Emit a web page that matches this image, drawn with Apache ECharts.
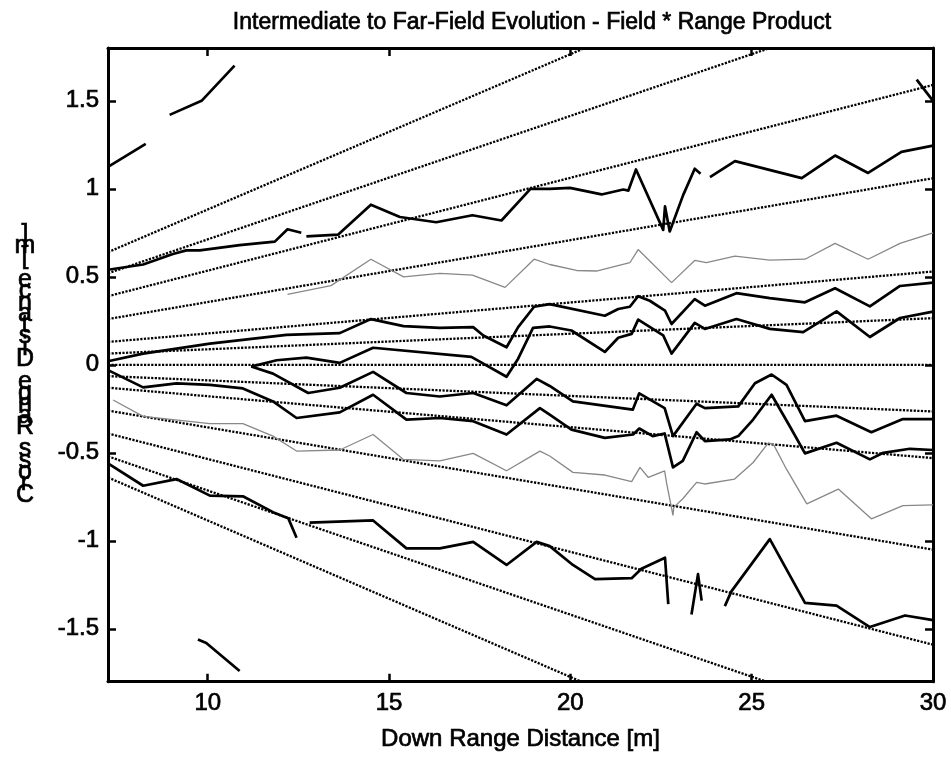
<!DOCTYPE html>
<html>
<head>
<meta charset="utf-8">
<script src="https://cdn.jsdelivr.net/npm/echarts@6/dist/echarts.min.js"></script>
<style>
  html, body { margin: 0; padding: 0; background: #fff; }
  #chart { width: 951px; height: 757px; }
</style>
</head>
<body>
<div id="chart"></div>
<script>
// Axis ranges and tick labels
const rangeMin = 7.25, rangeMax = 30;
const crossMin = -1.8, crossMax = 1.8;
const rangeTicks = [10, 15, 20, 25, 30];
const crossTicks = [-1.5, -1, -0.5, 0, 0.5, 1, 1.5];

// Constant-angle reference lines (dotted), end points [range, cross]
const guideZero = [[7.25, 0], [30, 0]];
const guideUp1 = [[7.25, 0.064], [30, 0.265]];
const guideUp2 = [[7.25, 0.13], [30, 0.53]];
const guideUp3 = [[7.25, 0.26], [30, 1.06]];
const guideUp4 = [[7.25, 0.39], [30, 1.59]];
const guideUp5 = [[7.25, 0.52], [25.5, 1.8]];
const guideUp6 = [[7.25, 0.64], [20.4, 1.8]];
const guideDn1 = [[7.25, -0.064], [30, -0.265]];
const guideDn2 = [[7.25, -0.13], [30, -0.53]];
const guideDn3 = [[7.25, -0.26], [30, -1.05]];
const guideDn4 = [[7.25, -0.39], [30, -1.59]];
const guideDn5 = [[7.25, -0.52], [25.4, -1.8]];
const guideDn6 = [[7.25, -0.64], [20.3, -1.8]];

// Measured field*range contours (solid)
const cornerTopA = [[7.25, 1.125], [8.29, 1.255]];
const cornerTopB = [[8.95, 1.42], [9.83, 1.50], [10.74, 1.70]];
const cornerTopRight = [[29.55, 1.62], [30, 1.5]];
const cornerBottom = [[9.73, -1.56], [9.96, -1.58], [10.88, -1.74]];

const upperA1 = [[7.25, 0.54], [8.22, 0.57], [9.04, 0.63], [9.41, 0.65], [9.78, 0.65], [10.88, 0.68],
  [11.85, 0.70], [12.2, 0.77], [12.58, 0.75]];
const upperA2 = [[12.72, 0.73], [13.6, 0.74], [14.5, 0.91], [15.3, 0.84], [16.3, 0.81], [17.3, 0.85],
  [18.1, 0.82], [18.9, 1.0], [19.43, 1.0], [19.99, 1.005], [20.86, 0.968], [21.46, 0.996], [21.6, 0.99],
  [21.81, 1.11], [22.56, 0.767], [22.61, 0.90], [22.74, 0.758], [23.11, 0.964], [23.43, 1.114], [23.59, 1.086]];
const upperA3 = [[23.85, 1.067], [24.54, 1.157], [26.38, 1.061], [27.3, 1.189], [28.21, 1.09],
  [29.13, 1.21], [30, 1.245]];

const upperGrey = [[12.2, 0.40], [13.4, 0.45], [14.5, 0.60], [15.4, 0.50], [16.4, 0.52], [17.3, 0.51],
  [18.2, 0.44], [19.0, 0.60], [19.43, 0.57], [20.17, 0.536], [20.72, 0.533], [21.64, 0.58], [21.87, 0.655],
  [22.79, 0.467], [23.43, 0.593], [23.75, 0.58], [24.54, 0.617], [25.5, 0.595], [26.47, 0.60], [27.3, 0.69],
  [28.21, 0.60], [29.09, 0.69], [30, 0.75]];

const midC = [[7.25, 0.02], [8.22, 0.064], [10.06, 0.12], [12.17, 0.17], [13.64, 0.18], [14.5, 0.26],
  [15.4, 0.22], [16.4, 0.21], [17.32, 0.214], [17.6, 0.167], [18.24, 0.10], [18.56, 0.214], [19.0, 0.33],
  [19.43, 0.345], [20.95, 0.279], [21.32, 0.317], [21.64, 0.33], [21.87, 0.39], [22.19, 0.364], [22.61, 0.308],
  [22.79, 0.232], [23.43, 0.373], [23.71, 0.336], [24.58, 0.407], [25.5, 0.379], [26.47, 0.355], [27.3, 0.435],
  [28.26, 0.332], [29.09, 0.448], [30, 0.467]];

const loopUpper = [[11.2, -0.01], [11.9, 0.026], [12.72, 0.041], [13.64, 0.011], [14.56, 0.097], [17.27, 0.045],
  [18.24, -0.068], [18.56, 0.035], [18.97, 0.21], [19.43, 0.218], [20.03, 0.195], [20.95, 0.073], [21.32, 0.154],
  [21.69, 0.176], [21.87, 0.257], [22.56, 0.167], [22.79, 0.064], [23.43, 0.238], [23.71, 0.204], [24.58, 0.26],
  [25.5, 0.204], [26.42, 0.186], [27.34, 0.304], [28.26, 0.158], [29.09, 0.266], [30, 0.302]];
const loopLower = [[11.2, -0.01], [11.8, -0.05], [12.77, -0.16], [13.64, -0.13], [14.56, -0.04], [15.48, -0.16],
  [16.4, -0.18], [17.32, -0.16], [18.24, -0.23], [19.07, -0.08], [19.43, -0.12], [20.07, -0.208], [21.72, -0.255],
  [21.9, -0.162], [22.6, -0.246], [22.83, -0.405], [23.48, -0.221], [23.71, -0.246], [24.63, -0.236],
  [25.09, -0.105], [25.55, -0.055], [25.96, -0.114], [26.47, -0.32], [27.34, -0.289], [28.3, -0.383],
  [29.17, -0.308], [30, -0.308]];

const midF = [[7.25, -0.03], [8.22, -0.128], [9.14, -0.105], [10.06, -0.114], [10.97, -0.134], [11.8, -0.208],
  [12.45, -0.302], [13.64, -0.27], [14.56, -0.17], [15.48, -0.311], [16.4, -0.302], [17.32, -0.32], [18.24, -0.396],
  [19.16, -0.246], [19.43, -0.283], [20.03, -0.368], [20.95, -0.415], [21.73, -0.396], [21.9, -0.362],
  [22.27, -0.405], [22.6, -0.39], [22.83, -0.583], [23.1, -0.546], [23.48, -0.383], [23.71, -0.433], [24.4, -0.424],
  [24.63, -0.405], [25.04, -0.311], [25.55, -0.17], [26.05, -0.349], [26.47, -0.503], [27.34, -0.443],
  [28.26, -0.537], [28.63, -0.5], [29.36, -0.477], [30, -0.484]];

const lowerGrey = [[7.39, -0.2], [8.22, -0.293], [10.06, -0.334], [10.97, -0.334], [11.8, -0.405], [12.45, -0.49],
  [13.64, -0.484], [14.56, -0.396], [15.39, -0.537], [16.4, -0.546], [17.32, -0.503], [18.24, -0.602],
  [19.16, -0.49], [19.43, -0.518], [20.07, -0.611], [20.95, -0.626], [21.69, -0.664], [21.92, -0.583],
  [22.15, -0.64], [22.6, -0.602], [22.65, -0.668], [22.83, -0.855], [22.85, -0.81], [23.1, -0.761], [23.48, -0.668],
  [23.71, -0.677], [24.53, -0.649], [25.04, -0.555], [25.46, -0.443], [25.6, -0.452], [25.96, -0.593],
  [26.52, -0.79], [27.39, -0.706], [28.3, -0.875], [29.17, -0.8], [30, -0.796]];

const lowerH1 = [[7.25, -0.56], [8.22, -0.687], [9.14, -0.649], [10.06, -0.743], [10.97, -0.747], [11.8, -0.837],
  [12.22, -0.871], [12.45, -0.983]];
const lowerH2 = [[12.81, -0.896], [14.56, -0.884], [15.48, -1.043], [16.4, -1.043], [17.32, -1.006], [18.24, -1.137],
  [19.07, -1.006], [19.43, -1.03], [20.07, -1.137], [20.68, -1.217], [21.69, -1.212], [21.96, -1.159],
  [22.61, -1.096], [22.7, -1.36]];
const lowerH3 = [[23.34, -1.418], [23.52, -1.189], [23.62, -1.34]];
const lowerH4 = [[24.26, -1.371], [24.44, -1.287], [25.5, -0.99], [26.47, -1.352], [27.34, -1.368],
  [28.26, -1.49], [29.23, -1.424], [30, -1.45]];

const guides = [guideZero, guideUp1, guideUp2, guideUp3, guideUp4, guideUp5, guideUp6,
  guideDn1, guideDn2, guideDn3, guideDn4, guideDn5, guideDn6];
const blackContours = [cornerTopA, cornerTopB, cornerTopRight, cornerBottom, upperA1, upperA2, upperA3,
  midC, loopUpper, loopLower, midF, lowerH1, lowerH2, lowerH3, lowerH4];
const greyContours = [upperGrey, lowerGrey];

const FONT = '"Liberation Sans", Arial, sans-serif';
// heavier strokes on the glyphs, like a photocopied plot
const inkText = { fontFamily: FONT, color: '#000', textBorderColor: '#000', textBorderWidth: 0.7 };
const yName = 'Cross Range Distance [m]'.split('').reverse().join('\n');

function lineSeries(data, style, z) {
  return {
    type: 'line', data: data, showSymbol: false, symbol: 'none', silent: true,
    animation: false, clip: true, z: z, lineStyle: style
  };
}

const series = [];
guides.forEach(d => series.push(lineSeries(d, { color: '#000', width: 2.3, type: [2.2, 1.4] }, 2)));
greyContours.forEach(d => series.push(lineSeries(d, { color: '#888', width: 1.3 }, 3)));
blackContours.forEach(d => series.push(lineSeries(d, { color: '#000', width: 2.7, join: 'round' }, 4)));

const frameLine = { show: true, onZero: false, lineStyle: { color: '#000', width: 3 } };
const tickStyle = { inside: true, length: 8, lineStyle: { color: '#000', width: 2.5 } };

const chart = echarts.init(document.getElementById('chart'), null, { renderer: 'canvas' });
chart.setOption({
  backgroundColor: '#fff',
  animation: false,
  title: {
    text: 'Intermediate to Far-Field Evolution - Field * Range Product',
    left: 527, top: 6, textAlign: 'center',
    textStyle: Object.assign({ fontSize: 23, fontWeight: 'normal' }, inkText)
  },
  grid: { left: 108, right: 18, top: 48, bottom: 68, containLabel: false },
  xAxis: [{
    type: 'value', min: rangeMin, max: rangeMax, position: 'bottom',
    name: 'Down Range Distance [m]', nameLocation: 'middle', nameGap: 46,
    nameTextStyle: Object.assign({ fontSize: 24 }, inkText),
    axisLine: frameLine,
    axisTick: Object.assign({ customValues: rangeTicks }, tickStyle),
    axisLabel: Object.assign({ customValues: rangeTicks, fontSize: 24, margin: 10 }, inkText),
    splitLine: { show: false }
  }, {
    type: 'value', min: rangeMin, max: rangeMax, position: 'top',
    axisLine: frameLine,
    axisTick: Object.assign({ customValues: rangeTicks }, tickStyle),
    axisLabel: { show: false },
    splitLine: { show: false }
  }],
  yAxis: [{
    type: 'value', min: crossMin, max: crossMax, position: 'left',
    name: yName, nameLocation: 'middle', nameRotate: 0, nameGap: 83,
    nameTextStyle: Object.assign({ fontSize: 25, lineHeight: 11.3, align: 'center', verticalAlign: 'middle' }, inkText),
    axisLine: frameLine,
    axisTick: Object.assign({ customValues: crossTicks }, tickStyle),
    axisLabel: Object.assign({ customValues: crossTicks, fontSize: 24, margin: 9 }, inkText),
    splitLine: { show: false }
  }, {
    type: 'value', min: crossMin, max: crossMax, position: 'right',
    axisLine: frameLine,
    axisTick: Object.assign({ customValues: crossTicks }, tickStyle),
    axisLabel: { show: false },
    splitLine: { show: false }
  }],
  series: series
});
</script>
</body>
</html>
